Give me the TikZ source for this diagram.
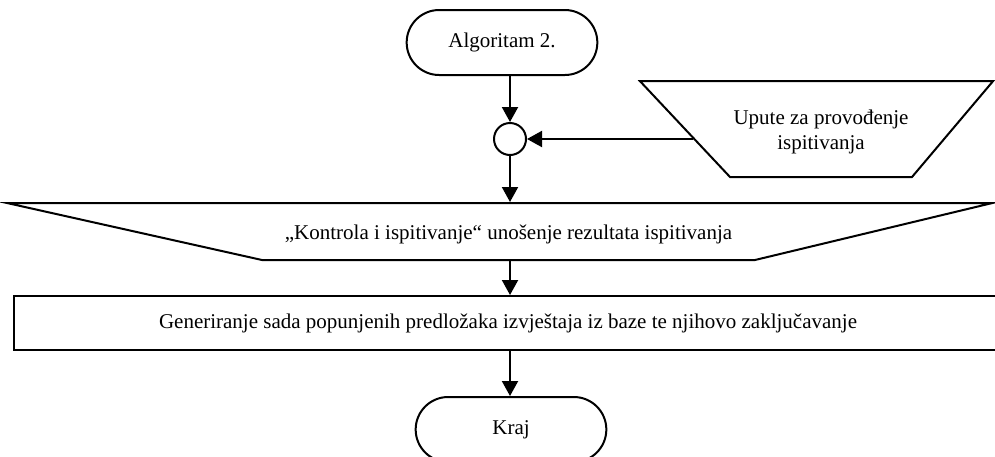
\documentclass[tikz,border=0pt]{standalone}
\usepackage{fontspec}
\setmainfont{Liberation Serif}
\usetikzlibrary{arrows.meta,shapes.geometric,shapes.misc}
\definecolor{fcink}{HTML}{000000}

\begin{document}
\begin{tikzpicture}[x=0.5pt,y=-0.5pt,
  >={Triangle[length=7.5pt,width=8pt]},
  txt/.style={font=\fontsize{10.5}{12.6}\selectfont\color{fcink}},
  term/.style={txt,draw=fcink,line width=1pt,rounded rectangle,
    minimum width=102pt,minimum height=32.5pt},
  handop/.style={txt,draw=fcink,line width=1pt,fill=white,trapezium,
    shape border rotate=180,inner sep=0pt}]
\useasboundingbox (0,0) rectangle (995,456);
\clip (0,0) rectangle (995,456);
\node[term] (start) at (502,42.5) {Algoritam 2.};
\node[draw=fcink,line width=1pt,circle,minimum size=16pt,inner sep=0pt]
  (join) at (510,139) {};
\node[handop,trapezium left angle=49.8,trapezium right angle=46.8,
  text height=28.35pt,text depth=19.65pt] (upute) at (821,129)
  {\makebox[91pt]{\begin{tabular}{@{}c@{}}Upute za provođenje\\ispitivanja\end{tabular}}};
\node[handop,trapezium left angle=13.5,trapezium right angle=12.6,
  text height=18pt,text depth=10.5pt] (kontrola) at (508.5,231.5)
  {\makebox[246.5pt]{„Kontrola i ispitivanje“ unošenje rezultata ispitivanja}};
\node[txt,draw=fcink,line width=1pt,minimum width=494pt,minimum height=27pt]
  (gen) at (508,323)
  {Generiranje sada popunjenih predložaka izvještaja iz baze te njihovo zaključavanje};
\node[term] (kraj) at (511,429.5) {Kraj};
\draw[->,line width=1pt] (start.south -| join) -- (join);
\draw[->,line width=1pt,shorten <=-4.7pt] (upute.west |- join) -- (join);
\draw[->,line width=1pt] (join) -- (join |- kontrola.north);
\draw[->,line width=1pt] (kontrola.south -| join) -- (join |- gen.north);
\draw[->,line width=1pt] (gen.south -| join) -- (join |- kraj.north);
\end{tikzpicture}
\end{document}
